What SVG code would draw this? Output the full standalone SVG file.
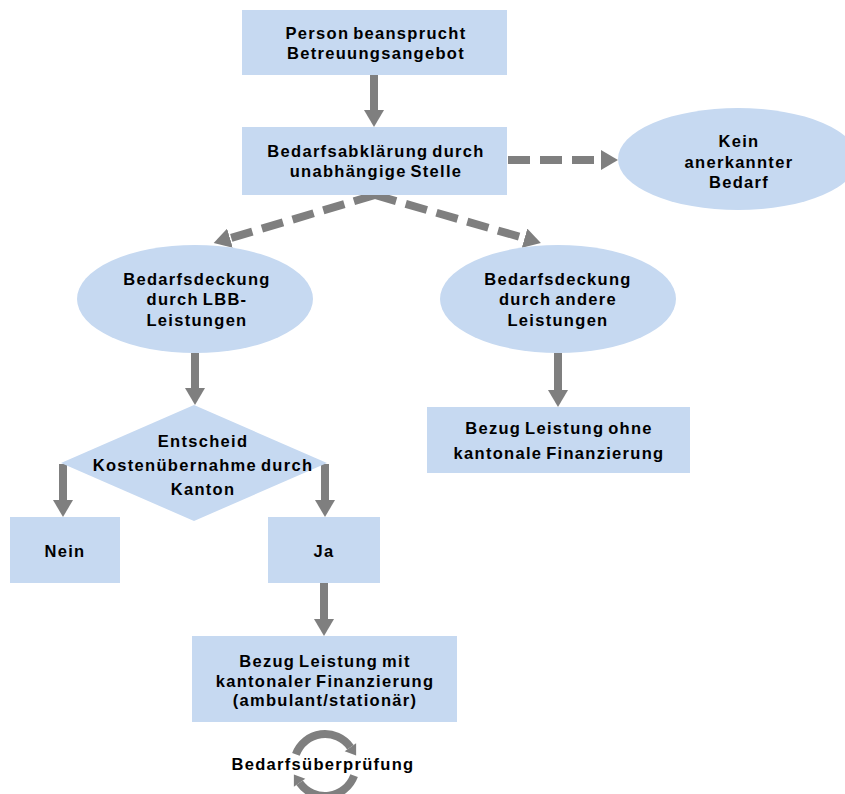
<svg xmlns="http://www.w3.org/2000/svg" width="845" height="794" viewBox="0 0 845 794">
<style>
.n{fill:#C6D9F1;stroke:none}
text{font-family:"Liberation Sans",Arial,sans-serif;font-weight:bold;font-size:16.5px;fill:#000;text-anchor:middle;letter-spacing:1.3px;word-spacing:-2px}
.c{stroke:#7F7F7F;stroke-width:8;fill:none}
.d{stroke-dasharray:22 10}
.h{fill:#7F7F7F}
</style>
<defs>
<marker id="ah" viewBox="0 0 17 20" refX="1" refY="10" markerWidth="17" markerHeight="20" markerUnits="userSpaceOnUse" orient="auto">
<path d="M0,0 L17,10 L0,20 z" fill="#7F7F7F"/>
</marker>
</defs>
<g id="connectors">
<line class="c" x1="374" y1="75" x2="374" y2="111" marker-end="url(#ah)"/>
<line class="c d" x1="508" y1="160" x2="602" y2="160" marker-end="url(#ah)"/>
<polyline class="c d" points="375,195 229,238.5" marker-end="url(#ah)"/>
<polyline class="c d" points="375,195 525.5,238.5" marker-end="url(#ah)"/>
<line class="c" x1="195" y1="353" x2="195" y2="389" marker-end="url(#ah)"/>
<line class="c" x1="558" y1="353" x2="558" y2="391" marker-end="url(#ah)"/>
<line class="c" x1="63" y1="464" x2="63" y2="501" marker-end="url(#ah)"/>
<line class="c" x1="325" y1="464" x2="325" y2="501" marker-end="url(#ah)"/>
<line class="c" x1="324" y1="583" x2="324" y2="620" marker-end="url(#ah)"/>
</g>
<g id="n1"><rect class="n" x="242" y="10" width="265" height="65"/>
<text x="376" y="39">Person beansprucht</text><text x="376" y="59">Betreuungsangebot</text></g>
<g id="n2"><rect class="n" x="242" y="127" width="265" height="68"/>
<text x="376" y="157">Bedarfsabklärung durch</text><text x="376" y="177">unabhängige Stelle</text></g>
<g id="n3"><ellipse class="n" cx="738" cy="159" rx="120" ry="51"/>
<text x="739" y="147">Kein</text><text x="739" y="168">anerkannter</text><text x="739" y="188">Bedarf</text></g>
<g id="n4"><ellipse class="n" cx="195" cy="299" rx="118" ry="54"/>
<text x="197" y="285">Bedarfsdeckung</text><text x="197" y="305">durch LBB-</text><text x="197" y="326">Leistungen</text></g>
<g id="n5"><ellipse class="n" cx="558" cy="299" rx="118" ry="54"/>
<text x="558" y="285">Bedarfsdeckung</text><text x="558" y="305">durch andere</text><text x="558" y="326">Leistungen</text></g>
<g id="n6"><rect class="n" x="427" y="407" width="263" height="66"/>
<text x="559" y="434">Bezug Leistung ohne</text><text x="559" y="459">kantonale Finanzierung</text></g>
<g id="n7"><polygon class="n" points="194,405 327,463 194,521 61,463"/>
<text x="203" y="447">Entscheid</text><text x="203" y="471">Kostenübernahme durch</text><text x="203" y="495">Kanton</text></g>
<g id="n8"><rect class="n" x="10" y="517" width="110" height="66"/>
<text x="65" y="557">Nein</text></g>
<g id="n9"><rect class="n" x="268" y="517" width="112" height="66"/>
<text x="324" y="557">Ja</text></g>
<g id="n10"><rect class="n" x="192" y="636" width="265" height="86"/>
<text x="325" y="667">Bezug Leistung mit</text><text x="325" y="687">kantonaler Finanzierung</text><text x="325" y="706">(ambulant/stationär)</text></g>
<g id="n11">
<path class="c" stroke-width="7" d="M 295.9 754.4 A 31 31 0 0 1 350.4 747.2"/>
<polygon class="h" points="356.1,743.2 344.7,751.2 356.1,755.4"/>
<path class="c" stroke-width="7" d="M 354.1 775.6 A 31 31 0 0 1 299.6 782.8"/>
<polygon class="h" points="305.3,778.8 293.9,786.8 293.9,774.6"/>
<text x="323" y="770">Bedarfsüberprüfung</text>
</g>
</svg>
